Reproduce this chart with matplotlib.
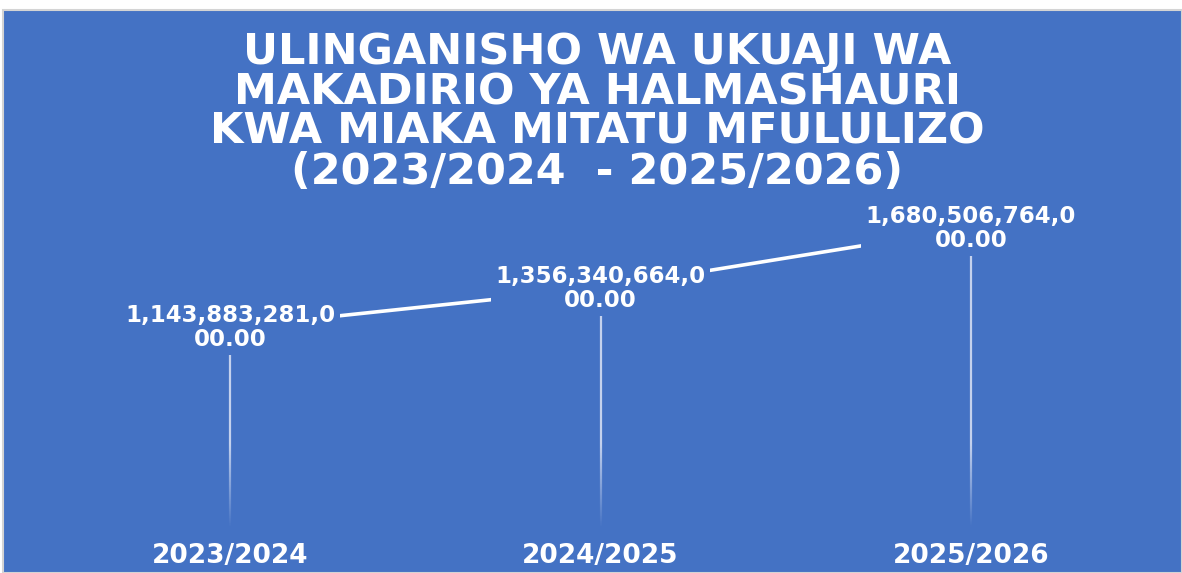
import numpy as np
import matplotlib.pyplot as plt
from matplotlib.patches import Rectangle
from matplotlib.collections import LineCollection

# data
years = ['2023/2024', '2024/2025', '2025/2026']
budget = [1143883281000.00, 1356340664000.00, 1680506764000.00]
value_labels = ['1,143,883,281,0\n00.00', '1,356,340,664,0\n00.00', '1,680,506,764,0\n00.00']
title = ('ULINGANISHO WA UKUAJI WA\nMAKADIRIO YA HALMASHAURI\n'
         'KWA MIAKA MITATU MFULULIZO\n(2023/2024  - 2025/2026)')

BLUE = '#4472C4'
W, H = 1182, 573

fig = plt.figure(figsize=(W / 100, H / 100), dpi=100)
fig.patch.set_facecolor('white')
# blue chart panel with thin grey border
fig.patches.append(Rectangle((3 / W, 0), 1 - 3 / W, (H - 10) / H, transform=fig.transFigure,
                             facecolor=BLUE, edgecolor='#d4d4d4', lw=1.5, zorder=-5))

fig.text(597 / W, 1 - 112 / H, title, ha='center', va='center', color='white',
         fontsize=31, fontweight='bold', linespacing=0.93, family='DejaVu Sans')

ax = fig.add_axes([45 / W, (H - 539) / H, 1111 / W, 333 / H])
ax.set_facecolor('none')
x = np.arange(len(years))
ymax = 1.8e12
ax.set_xlim(-0.5, len(years) - 0.5)
ax.set_ylim(0, ymax)

# drop lines, fading out toward the axis
for xi, yi in zip(x, budget):
    ys = np.linspace(0, yi, 300)
    segs = [[(xi, ys[k]), (xi, ys[k + 1])] for k in range(len(ys) - 1)]
    frac = ys[:-1] / ymax
    a = np.clip((frac - 0.035) / 0.25, 0, 1) * 0.85
    cols = [(0.86, 0.89, 0.96, ai) for ai in a]
    ax.add_collection(LineCollection(segs, colors=cols, linewidths=1.6, zorder=1))

ax.plot(x, budget, color='white', lw=2.6, zorder=2, solid_capstyle='butt')

for xi, yi, lab in zip(x, budget, value_labels):
    ax.text(xi, yi, lab, ha='center', va='center', multialignment='center',
            color='white', fontsize=16.5, fontweight='semibold', linespacing=1.05, zorder=3,
            bbox=dict(boxstyle='square,pad=0.2', facecolor=BLUE, edgecolor='none'))

ax.set_xticks(x)
ax.set_xticklabels(years, color='white', fontsize=19, fontweight='bold')
ax.tick_params(axis='x', length=0, pad=3)
ax.set_yticks([])
for s in ax.spines.values():
    s.set_visible(False)

fig.savefig('out.png', dpi=100)
